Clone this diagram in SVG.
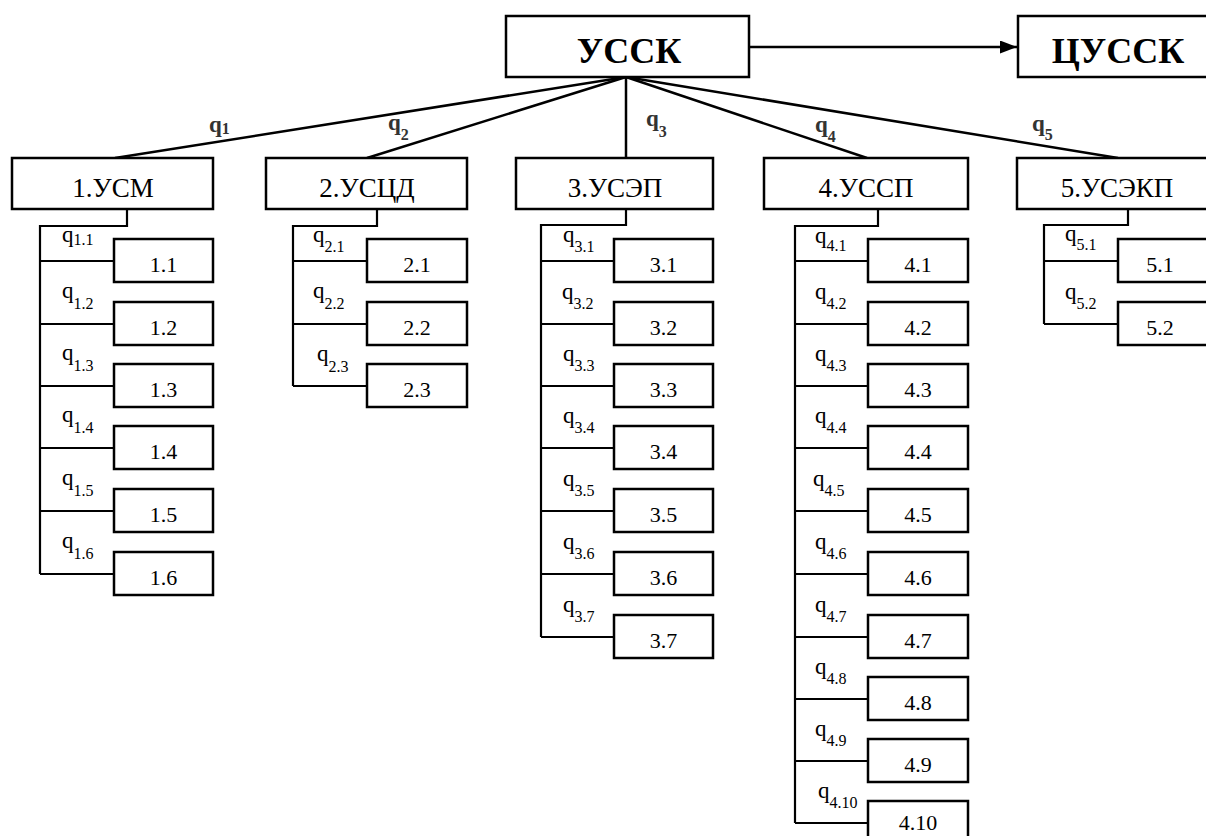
<svg xmlns="http://www.w3.org/2000/svg" width="1206" height="836" viewBox="0 0 1206 836">
<style>
.b{fill:#fff;stroke:#000;stroke-width:2.5}
.c{fill:none;stroke:#000;stroke-width:2.5}
.s{fill:none;stroke:#000;stroke-width:2.2}
text{font-family:'Liberation Serif','Times New Roman','DejaVu Serif',serif}
.t{fill:#000;text-anchor:middle}
.h{font-size:36px;font-weight:bold}
.m{font-size:27px}
.n{font-size:22px}
.q{font-size:23px;fill:#000}
.qb{font-size:23px;font-weight:bold;fill:#333}
.sub{font-size:16px}
</style>
<defs>
<marker id="ah" markerWidth="17" markerHeight="13" refX="17" refY="6.5" orient="auto" markerUnits="userSpaceOnUse"><path d="M0,0 L17,6.5 L0,13 z" fill="#000"/></marker>
</defs>
<rect width="1206" height="836" fill="#fff"/>

<g id="connectors">
<line class="c" x1="749" y1="47" x2="1017" y2="47" marker-end="url(#ah)"/>
<line class="c" x1="626" y1="77" x2="115" y2="158"/>
<line class="c" x1="626" y1="77" x2="367" y2="158"/>
<line class="c" x1="626" y1="77" x2="626" y2="158"/>
<line class="c" x1="626" y1="77" x2="867" y2="158"/>
<line class="c" x1="626" y1="77" x2="1118" y2="158"/>
<text class="qb" x="209" y="132">q<tspan class="sub" dy="2">1</tspan></text>
<text class="qb" x="388" y="130">q<tspan class="sub" dy="10">2</tspan></text>
<text class="qb" x="646" y="126">q<tspan class="sub" dy="11">3</tspan></text>
<text class="qb" x="815" y="132">q<tspan class="sub" dy="10">4</tspan></text>
<text class="qb" x="1032" y="131">q<tspan class="sub" dy="9">5</tspan></text>
<path class="s" d="M127,209 V226 H40 V574 M40,261 H114 M40,324 H114 M40,386 H114 M40,448 H114 M40,511 H114 M40,574 H114"/>
<path class="s" d="M377,209 V226 H293 V386 M293,261 H367 M293,324 H367 M293,386 H367"/>
<path class="s" d="M626,209 V225 H541 V637 M541,261 H614 M541,324 H614 M541,386 H614 M541,448 H614 M541,511 H614 M541,574 H614 M541,637 H614"/>
<path class="s" d="M878,209 V226 H795 V823 M795,261 H868 M795,324 H868 M795,386 H868 M795,448 H868 M795,511 H868 M795,574 H868 M795,637 H868 M795,699 H868 M795,761 H868 M795,823 H868"/>
<path class="s" d="M1128,209 V225 H1044 V324 M1044,261 H1118 M1044,324 H1118"/>
</g>

<g id="n-ussk"><rect class="b" x="506" y="16" width="243" height="61"/><text class="t h" x="629" y="63">УССК</text></g>
<g id="n-tsussk"><rect class="b" x="1018" y="16" width="200" height="61"/><text class="t h" x="1118" y="63">ЦУССК</text></g>

<g id="n-1"><rect class="b" x="12" y="158" width="201" height="51"/><text class="t m" x="113" y="197">1.УСМ</text></g>
<g id="n-2"><rect class="b" x="266" y="158" width="201" height="51"/><text class="t m" x="367" y="197">2.УСЦД</text></g>
<g id="n-3"><rect class="b" x="516" y="158" width="197" height="51"/><text class="t m" x="615" y="197">3.УСЭП</text></g>
<g id="n-4"><rect class="b" x="764" y="158" width="204" height="51"/><text class="t m" x="866" y="197">4.УССП</text></g>
<g id="n-5"><rect class="b" x="1017" y="158" width="200" height="51"/><text class="t m" x="1117" y="197">5.УСЭКП</text></g>

<g id="n-1-1"><rect class="b" x="114" y="239" width="99" height="43"/><text class="t n" x="163.5" y="272">1.1</text><text class="q" x="62" y="242">q<tspan class="sub" dy="3">1.1</tspan></text></g>
<g id="n-1-2"><rect class="b" x="114" y="302" width="99" height="43"/><text class="t n" x="163.5" y="335">1.2</text><text class="q" x="62" y="298">q<tspan class="sub" dy="11">1.2</tspan></text></g>
<g id="n-1-3"><rect class="b" x="114" y="364" width="99" height="43"/><text class="t n" x="163.5" y="397">1.3</text><text class="q" x="62" y="360">q<tspan class="sub" dy="11">1.3</tspan></text></g>
<g id="n-1-4"><rect class="b" x="114" y="426" width="99" height="43"/><text class="t n" x="163.5" y="459">1.4</text><text class="q" x="62" y="422">q<tspan class="sub" dy="11">1.4</tspan></text></g>
<g id="n-1-5"><rect class="b" x="114" y="489" width="99" height="43"/><text class="t n" x="163.5" y="522">1.5</text><text class="q" x="62" y="485">q<tspan class="sub" dy="11">1.5</tspan></text></g>
<g id="n-1-6"><rect class="b" x="114" y="552" width="99" height="43"/><text class="t n" x="163.5" y="585">1.6</text><text class="q" x="62" y="548">q<tspan class="sub" dy="11">1.6</tspan></text></g>

<g id="n-2-1"><rect class="b" x="367" y="239" width="100" height="43"/><text class="t n" x="417" y="272">2.1</text><text class="q" x="313" y="242">q<tspan class="sub" dy="10">2.1</tspan></text></g>
<g id="n-2-2"><rect class="b" x="367" y="302" width="100" height="43"/><text class="t n" x="417" y="335">2.2</text><text class="q" x="313" y="298">q<tspan class="sub" dy="11">2.2</tspan></text></g>
<g id="n-2-3"><rect class="b" x="367" y="364" width="100" height="43"/><text class="t n" x="417" y="397">2.3</text><text class="q" x="317" y="361">q<tspan class="sub" dy="11">2.3</tspan></text></g>

<g id="n-3-1"><rect class="b" x="614" y="239" width="99" height="43"/><text class="t n" x="663.5" y="272">3.1</text><text class="q" x="563" y="242">q<tspan class="sub" dy="10">3.1</tspan></text></g>
<g id="n-3-2"><rect class="b" x="614" y="302" width="99" height="43"/><text class="t n" x="663.5" y="335">3.2</text><text class="q" x="562" y="299">q<tspan class="sub" dy="10">3.2</tspan></text></g>
<g id="n-3-3"><rect class="b" x="614" y="364" width="99" height="43"/><text class="t n" x="663.5" y="397">3.3</text><text class="q" x="563" y="361">q<tspan class="sub" dy="10">3.3</tspan></text></g>
<g id="n-3-4"><rect class="b" x="614" y="426" width="99" height="43"/><text class="t n" x="663.5" y="459">3.4</text><text class="q" x="563" y="423">q<tspan class="sub" dy="10">3.4</tspan></text></g>
<g id="n-3-5"><rect class="b" x="614" y="489" width="99" height="43"/><text class="t n" x="663.5" y="522">3.5</text><text class="q" x="563" y="486">q<tspan class="sub" dy="10">3.5</tspan></text></g>
<g id="n-3-6"><rect class="b" x="614" y="552" width="99" height="43"/><text class="t n" x="663.5" y="585">3.6</text><text class="q" x="563" y="549">q<tspan class="sub" dy="10">3.6</tspan></text></g>
<g id="n-3-7"><rect class="b" x="614" y="615" width="99" height="43"/><text class="t n" x="663.5" y="648">3.7</text><text class="q" x="563" y="612">q<tspan class="sub" dy="10">3.7</tspan></text></g>

<g id="n-4-1"><rect class="b" x="868" y="239" width="100" height="43"/><text class="t n" x="918" y="272">4.1</text><text class="q" x="815" y="243">q<tspan class="sub" dy="8">4.1</tspan></text></g>
<g id="n-4-2"><rect class="b" x="868" y="302" width="100" height="43"/><text class="t n" x="918" y="335">4.2</text><text class="q" x="815" y="299">q<tspan class="sub" dy="10">4.2</tspan></text></g>
<g id="n-4-3"><rect class="b" x="868" y="364" width="100" height="43"/><text class="t n" x="918" y="397">4.3</text><text class="q" x="815" y="361">q<tspan class="sub" dy="10">4.3</tspan></text></g>
<g id="n-4-4"><rect class="b" x="868" y="426" width="100" height="43"/><text class="t n" x="918" y="459">4.4</text><text class="q" x="815" y="423">q<tspan class="sub" dy="10">4.4</tspan></text></g>
<g id="n-4-5"><rect class="b" x="868" y="489" width="100" height="43"/><text class="t n" x="918" y="522">4.5</text><text class="q" x="813" y="486">q<tspan class="sub" dy="10">4.5</tspan></text></g>
<g id="n-4-6"><rect class="b" x="868" y="552" width="100" height="43"/><text class="t n" x="918" y="585">4.6</text><text class="q" x="815" y="549">q<tspan class="sub" dy="10">4.6</tspan></text></g>
<g id="n-4-7"><rect class="b" x="868" y="615" width="100" height="43"/><text class="t n" x="918" y="648">4.7</text><text class="q" x="815" y="612">q<tspan class="sub" dy="10">4.7</tspan></text></g>
<g id="n-4-8"><rect class="b" x="868" y="677" width="100" height="43"/><text class="t n" x="918" y="710">4.8</text><text class="q" x="815" y="674">q<tspan class="sub" dy="10">4.8</tspan></text></g>
<g id="n-4-9"><rect class="b" x="868" y="739" width="100" height="43"/><text class="t n" x="918" y="772">4.9</text><text class="q" x="815" y="736">q<tspan class="sub" dy="10">4.9</tspan></text></g>
<g id="n-4-10"><rect class="b" x="868" y="801" width="100" height="43"/><text class="t n" x="918" y="830">4.10</text><text class="q" x="818" y="798">q<tspan class="sub" dy="10">4.10</tspan></text></g>

<g id="n-5-1"><rect class="b" x="1118" y="239" width="102" height="43"/><text class="t n" x="1160" y="272">5.1</text><text class="q" x="1065" y="241">q<tspan class="sub" dy="9">5.1</tspan></text></g>
<g id="n-5-2"><rect class="b" x="1118" y="302" width="102" height="43"/><text class="t n" x="1160" y="335">5.2</text><text class="q" x="1065" y="299">q<tspan class="sub" dy="10">5.2</tspan></text></g>
</svg>
